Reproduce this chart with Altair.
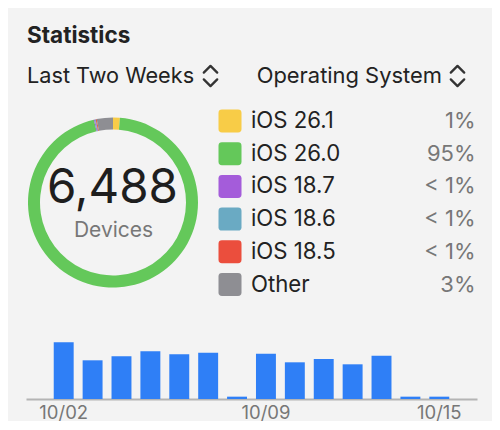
import altair as alt
import pandas as pd

# ---- data ----
os_names = ["iOS 26.1", "iOS 26.0", "iOS 18.7", "iOS 18.6", "iOS 18.5", "Other"]
os_counts = [84, 6170, 12, 10, 12, 200]
os_colors = ["#F8CC47", "#64C85A", "#A45CDA", "#6AAAC3", "#EB4E3D", "#8E8E93"]

dates = ["10/02", "10/03", "10/04", "10/05", "10/06", "10/07", "10/08",
         "10/09", "10/10", "10/11", "10/12", "10/13", "10/14", "10/15"]
daily = [850, 580, 640, 715, 670, 695, 35, 680, 550, 600, 520, 650, 35, 35]
date_ticks = ["10/02", "10/09", "10/15"]

title_text = "Statistics"
menu1 = "Last Two Weeks"
menu2 = "Operating System"
center_label = "Devices"

total = sum(os_counts)


def pct_label(v):
    p = v / total * 100
    return "< 1%" if p < 1 else f"{round(p)}%"


os_df = pd.DataFrame({
    "name": os_names,
    "count": os_counts,
    "idx": list(range(len(os_names))),
    "pct": [pct_label(v) for v in os_counts],
})
bar_df = pd.DataFrame({"date": dates, "value": daily})
one = pd.DataFrame({"k": [0]})

FONT = "Inter"
BG = "#f3f3f3"

color_scale = alt.Scale(domain=os_names, range=os_colors)
legend_y = alt.Y("name:N", scale=alt.Scale(domain=os_names, range=[113, 276.5], padding=0), axis=None)

# ---- header ----
title = alt.Chart(one).mark_text(
    text=title_text, font=FONT, fontSize=22.5, fontWeight="bold", color="#222",
    align="left", baseline="alphabetic"
).encode(x=alt.value(19), y=alt.value(34.7))

m1 = alt.Chart(one).mark_text(
    text=menu1, font=FONT, fontSize=21.7, color="#222", align="left", baseline="alphabetic"
).encode(x=alt.value(19), y=alt.value(75.3))
m2 = alt.Chart(one).mark_text(
    text=menu2, font=FONT, fontSize=21.9, color="#222", align="left", baseline="alphabetic"
).encode(x=alt.value(248.7), y=alt.value(75.3))

chev_path = "M-0.6,-0.3 L0,-0.9 L0.6,-0.3 M-0.6,0.3 L0,0.9 L0.6,0.3"
chev1 = alt.Chart(one).mark_point(
    shape=chev_path, filled=False, size=500, strokeWidth=2.3, color="#333",
    opacity=1, strokeCap="round", strokeJoin="round"
).encode(x=alt.value(202.5), y=alt.value(68))
chev2 = alt.Chart(one).mark_point(
    shape=chev_path, filled=False, size=500, strokeWidth=2.3, color="#333",
    opacity=1, strokeCap="round", strokeJoin="round"
).encode(x=alt.value(449.5), y=alt.value(68))

# ---- donut ----
donut = alt.Chart(os_df).mark_arc(innerRadius=73, outerRadius=85).encode(
    theta=alt.Theta("count:Q", stack=True),
    order=alt.Order("idx:Q"),
    color=alt.Color("name:N", scale=color_scale, legend=None),
    x=alt.value(105),
    y=alt.value(194.5),
)

total_txt = alt.Chart(one).mark_text(
    text=f"{total:,}", font=FONT, fontSize=47.5, color="#1e1e1e",
    align="center", baseline="alphabetic"
).encode(x=alt.value(104.5), y=alt.value(195.3))
dev_txt = alt.Chart(one).mark_text(
    text=center_label, font=FONT, fontSize=21, color="#777",
    align="center", baseline="alphabetic"
).encode(x=alt.value(105.5), y=alt.value(228.7))

# ---- legend ----
rounded_sq = ("M-0.7,-1 L0.7,-1 Q1,-1 1,-0.7 L1,0.7 Q1,1 0.7,1 L-0.7,1 "
              "Q-1,1 -1,0.7 L-1,-0.7 Q-1,-1 -0.7,-1 Z")
swatch = alt.Chart(os_df).mark_point(
    shape=rounded_sq, filled=True, size=529, opacity=1, strokeWidth=0
).encode(
    x=alt.value(222), y=legend_y,
    color=alt.Color("name:N", scale=color_scale, legend=None),
)
leg_name = alt.Chart(os_df).mark_text(
    font=FONT, fontSize=22.2, color="#222", align="left", baseline="middle"
).encode(x=alt.value(243), y=legend_y, text="name:N")
leg_pct = alt.Chart(os_df).mark_text(
    font=FONT, fontSize=22, color="#777", align="right", baseline="middle"
).encode(x=alt.value(467.5), y=legend_y, text="pct:N")

# ---- bars ----
bars = alt.Chart(bar_df).mark_bar(color="#2F7FF6").encode(
    x=alt.X("date:N", sort=dates,
            scale=alt.Scale(range=[18, 469], paddingInner=0.31, paddingOuter=0.96),
            axis=alt.Axis(values=date_ticks, title=None, labelAngle=0, ticks=False,
                          labelFont=FONT, labelFontSize=18.5, labelColor="#777",
                          labelPadding=19, labelBaseline="alphabetic",
                          domainColor="#b4b4b4", domainWidth=2, grid=False)),
    y=alt.Y("value:Q", scale=alt.Scale(domain=[0, 850], range=[391, 334.3], nice=False),
            axis=None),
)

chart = alt.layer(
    donut, total_txt, dev_txt, swatch, leg_name, leg_pct, bars,
    title, m1, m2, chev1, chev2,
).resolve_scale(y="independent").properties(
    width=484, height=391,
    padding={"left": 0, "top": 0, "right": 0, "bottom": 22},
    autosize=alt.AutoSizeParams(type="none"),
    background=BG,
).configure_view(stroke=None)

chart.save("out.html", embed_options={"renderer": "svg", "actions": False})
